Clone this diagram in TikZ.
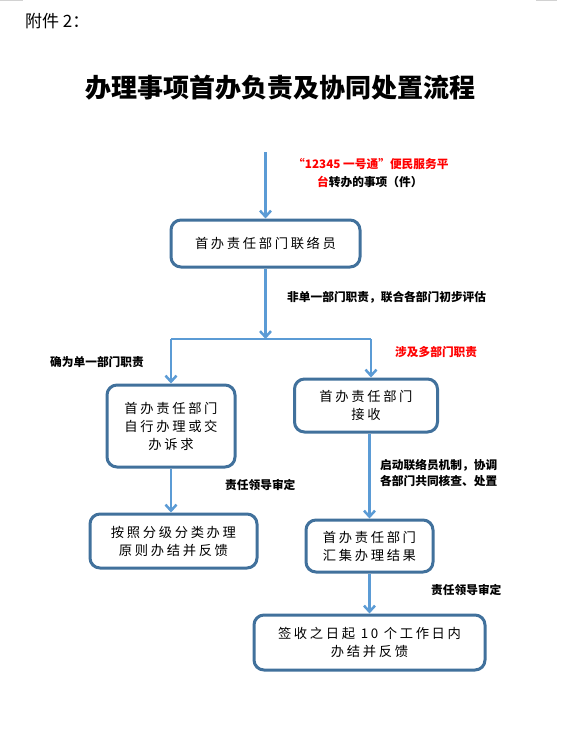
\documentclass[tikz,border=0pt]{standalone}
\usepackage{fontspec}
\setmainfont{Noto Sans CJK SC}
\newfontfamily\cjksp[LetterSpace=20]{Noto Sans CJK SC}
\usetikzlibrary{arrows.meta}
\definecolor{boxblue}{HTML}{41719C}
\definecolor{arrblue}{HTML}{5B9BD5}
\definecolor{lblred}{HTML}{FF0000}
\begin{document}
\begin{tikzpicture}[x=1pt,y=-1pt,
 box/.style={draw=boxblue,line width=3pt,rounded corners=10pt,fill=white,inner sep=0pt,align=center,font=\cjksp\fontsize{13.3}{18}\selectfont},
 arr/.style={draw=arrblue,line width=2.5pt,-{Straight Barb[length=6pt,width=11pt]}},
 conn/.style={draw=arrblue,line width=2.5pt},
 lbl/.style={inner sep=0pt,anchor=west,font=\bfseries\fontsize{11.7}{16}\selectfont,align=left},
]
\fill[white] (0,0) rectangle (576,752);
\useasboundingbox (0,0) rectangle (576,752);
\draw[gray!35,line width=1.2pt] (0,0.6) -- (23,0.6);
\draw[gray!35,line width=1.2pt] (536,0.6) -- (557,0.6);

\node[inner sep=0pt,anchor=west,font=\fontsize{17}{20}\selectfont] (att) at (25,21) {附件 2：};
\node[inner sep=0pt,font=\bfseries\fontsize{26}{30}\selectfont] (title) at (280,88) {办理事项首办负责及协同处置流程};

\node[box,minimum width=189pt,minimum height=47pt] (b1) at (265.5,243.5) {首办责任部门联络员};
\node[box,minimum width=128pt,minimum height=82pt] (b2) at (171,426) {首办责任部门\\自行办理或交\\办诉求};
\node[box,minimum width=143pt,minimum height=53pt] (b3) at (366,405.5) {首办责任部门\\接收};
\node[box,minimum width=167pt,minimum height=54pt] (b4) at (173.5,541) {按照分级分类办理\\原则办结并反馈};
\node[box,minimum width=127pt,minimum height=52pt] (b5) at (369.5,546) {首办责任部门\\汇集办理结果};
\node[box,minimum width=231pt,minimum height=55pt] (b6) at (369.5,642.5) {签收之日起 10 个工作日内\\办结并反馈};

\coordinate (start) at (265.5,152);
\coordinate (split) at (265.5,339);
\coordinate (bl) at (171,339);
\coordinate (br) at (371,339);

\draw[arr] (start) -- (b1.north);
\draw[arr] (b1.south) -- (split);
\draw[conn] (bl) -- (br);
\draw[arr] (bl) -- (b2.north);
\draw[arr] (br) -- (br |- b3.north);
\draw[arr] (b2.south) -- (b2.south |- b4.north);
\draw[arr] (b3.south -| b5.north) -- (b5.north);
\draw[arr] (b5.south) -- (b6.north);

\node[lbl] (l1) at (293,164) {\color{lblred}“12345 一号通”便民服务平};
\node[lbl] (l2) at (317,182) {{\color{lblred}台}转办的事项（件）};
\node[lbl] (l3) at (287,297) {非单一部门职责，联合各部门初步评估};
\node[lbl] (l4) at (50,362) {确为单一部门职责};
\node[lbl,text=lblred] (l5) at (395,352) {涉及多部门职责};
\node[lbl] (l6) at (225,485) {责任领导审定};
\node[lbl] (l7) at (380,473) {启动联络员机制，协调\\各部门共同核查、处置};
\node[lbl] (l8) at (431,590) {责任领导审定};
\end{tikzpicture}
\end{document}
